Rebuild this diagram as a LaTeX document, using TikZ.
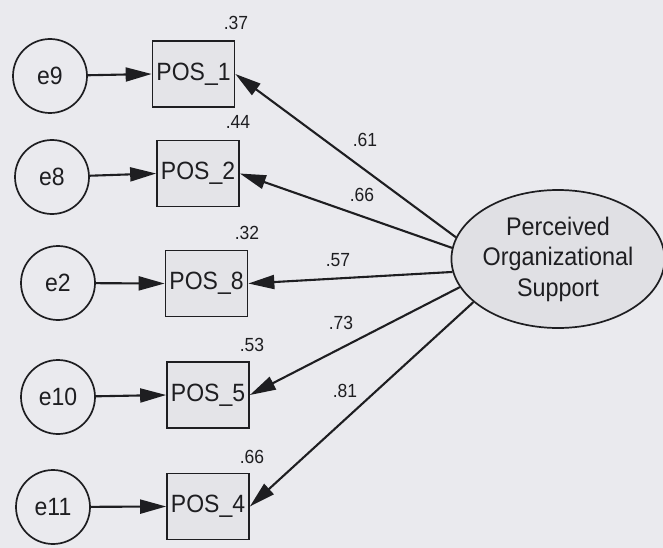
\documentclass[tikz,border=0pt]{standalone}
\usepackage{fontspec}
\setmainfont{Liberation Sans}
\newfontfamily\diagfont[FakeStretch=0.92]{Liberation Sans}
\usetikzlibrary{arrows.meta,shapes.geometric}
\definecolor{paper}{RGB}{234,234,238}
\definecolor{boxfill}{RGB}{228,228,232}
\definecolor{latfill}{RGB}{224,224,228}
\definecolor{ink}{RGB}{30,30,33}
\begin{document}
\begin{tikzpicture}[x=1pt,y=-1pt,
  every node/.style={font=\diagfont\fontsize{25}{30}\selectfont, text=ink},
  errvar/.style={circle, draw=ink, line width=1.7pt, minimum size=74pt, inner sep=0pt},
  obsvar/.style={rectangle, draw=ink, line width=1.7pt, fill=boxfill, minimum width=82pt, minimum height=66pt, inner sep=0pt},
  latvar/.style={ellipse, draw=ink, line width=1.7pt, fill=latfill, minimum width=206pt, minimum height=138pt, inner sep=0pt, align=center, font=\diagfont\fontsize{25.4}{30.5}\selectfont},
  coef/.style={font=\diagfont\fontsize{19}{21}\selectfont, inner sep=0pt},
  path/.style={draw=ink, line width=2.1pt, -{Triangle[length=26pt,width=14pt]}}
]
% page
\fill[paper] (0,0) rectangle (663,548);
\useasboundingbox (0,0) rectangle (663,548);

% latent factor
\node[latvar] (poe) at (558,259) {Perceived\\Organizational\\Support};

% observed indicators
\node[obsvar] (b1) at (193.5,74) {POS\_1};
\node[obsvar] (b2) at (198,173.5) {POS\_2};
\node[obsvar] (b8) at (206.5,283.5) {POS\_8};
\node[obsvar] (b5) at (208,395) {POS\_5};
\node[obsvar] (b4) at (208,506.5) {POS\_4};

% error terms
\node[errvar] (e9) at (50,76) {e9};
\node[errvar] (e8) at (52,177) {e8};
\node[errvar] (e2) at (58,283) {e2};
\node[errvar] (e10) at (58,397) {e10};
\node[errvar] (e11) at (53,507) {e11};

% error paths
\draw[path] (e9) -- (b1.west);
\draw[path] (e8) -- (b2.west);
\draw[path] (e2) -- (b8.west);
\draw[path] (e10) -- (b5.west);
\draw[path] (e11) -- (b4.west);

% factor loadings
\draw[path] (poe.168) -- (b1.east);
\draw[path] (poe.174) -- (b2.east);
\draw[path] (poe.187.5) -- (b8.east);
\draw[path] (poe.196.5) -- (b5.east);
\draw[path] (poe.207.5) -- (b4.east);

% standardized loadings
\node[coef] (l1) at (365,140) {.61};
\node[coef] (l2) at (362,195) {.66};
\node[coef] (l8) at (338,260) {.57};
\node[coef] (l5) at (341,323) {.73};
\node[coef] (l4) at (345,391) {.81};

% squared multiple correlations
\node[coef] (r1) at (236,23) {.37};
\node[coef] (r2) at (238,122) {.44};
\node[coef] (r8) at (247,233) {.32};
\node[coef] (r5) at (252,345) {.53};
\node[coef] (r4) at (252,457) {.66};
\end{tikzpicture}
\end{document}
